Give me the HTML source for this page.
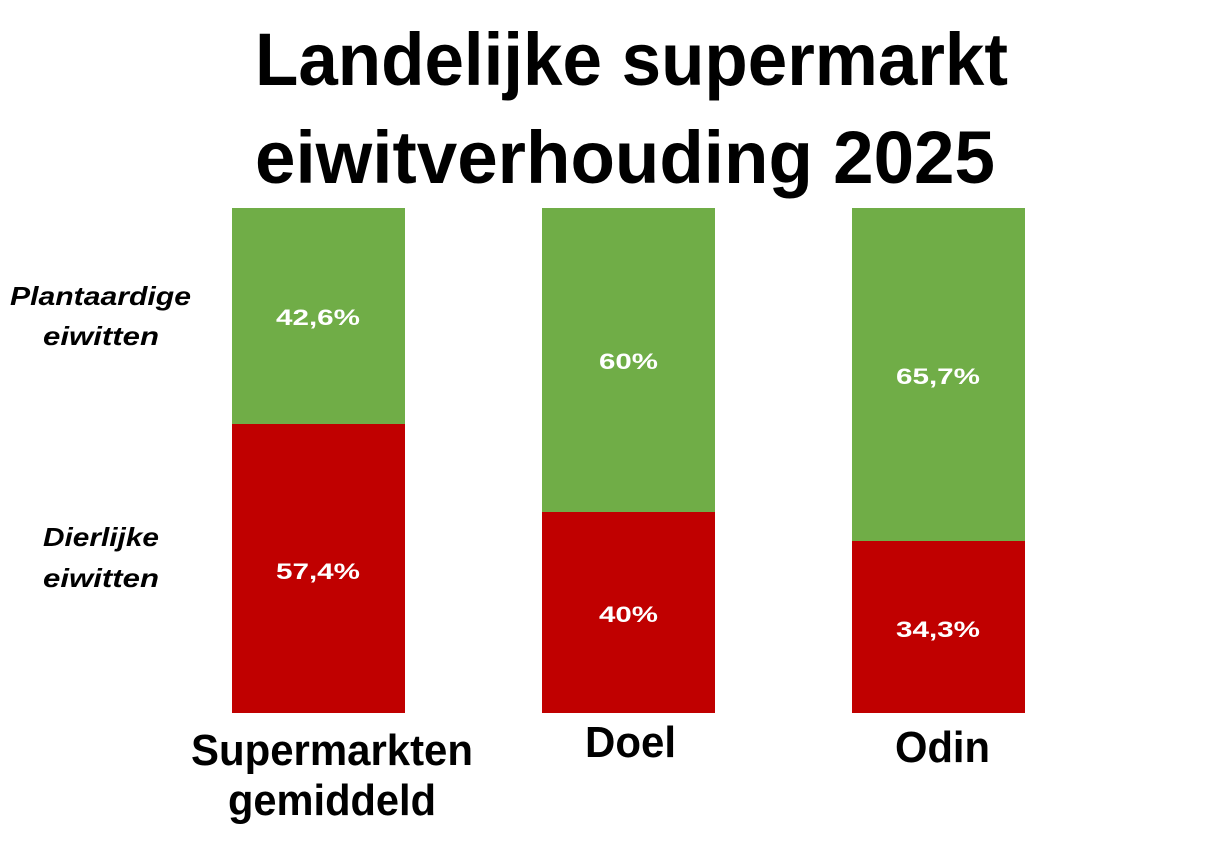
<!DOCTYPE html>
<html><head><meta charset="utf-8"><style>html,body{margin:0;padding:0;background:#fff;}svg{display:block}</style></head>
<body>
<svg width="1209" height="842" viewBox="0 0 1209 842" xmlns="http://www.w3.org/2000/svg">
<rect width="1209" height="842" fill="#fff"/>
<g font-family="Liberation Sans, Arial, sans-serif" font-weight="bold" fill="#000">
<text x="255" y="85" font-size="74" textLength="753" lengthAdjust="spacingAndGlyphs">Landelijke supermarkt</text>
<text x="255" y="183" font-size="74" textLength="740" lengthAdjust="spacingAndGlyphs">eiwitverhouding 2025</text>
</g>
<rect x="232" y="208" width="173" height="216" fill="#70ad47"/>
<rect x="232" y="424" width="173" height="289" fill="#c00000"/>
<rect x="542" y="208" width="173" height="304" fill="#70ad47"/>
<rect x="542" y="512" width="173" height="201" fill="#c00000"/>
<rect x="852" y="208" width="173" height="333" fill="#70ad47"/>
<rect x="852" y="541" width="173" height="172" fill="#c00000"/>
<g font-family="Liberation Sans, Arial, sans-serif" font-weight="bold" fill="#fff" font-size="22">
<text x="276" y="325" textLength="84" lengthAdjust="spacingAndGlyphs">42,6%</text>
<text x="276" y="579" textLength="84" lengthAdjust="spacingAndGlyphs">57,4%</text>
<text x="599" y="369" textLength="59" lengthAdjust="spacingAndGlyphs">60%</text>
<text x="599" y="622" textLength="59" lengthAdjust="spacingAndGlyphs">40%</text>
<text x="896" y="384" textLength="84" lengthAdjust="spacingAndGlyphs">65,7%</text>
<text x="896" y="637" textLength="84" lengthAdjust="spacingAndGlyphs">34,3%</text>
</g>
<g font-family="Liberation Sans, Arial, sans-serif" font-weight="bold" font-style="italic" fill="#000" font-size="26">
<text x="10" y="305" textLength="181" lengthAdjust="spacingAndGlyphs">Plantaardige</text>
<text x="43" y="345" textLength="116" lengthAdjust="spacingAndGlyphs">eiwitten</text>
<text x="43" y="546" textLength="116" lengthAdjust="spacingAndGlyphs">Dierlijke</text>
<text x="43" y="587" textLength="116" lengthAdjust="spacingAndGlyphs">eiwitten</text>
</g>
<g font-family="Liberation Sans, Arial, sans-serif" font-weight="bold" fill="#000" font-size="44">
<text x="191" y="765" textLength="282" lengthAdjust="spacingAndGlyphs">Supermarkten</text>
<text x="228" y="815" textLength="208" lengthAdjust="spacingAndGlyphs">gemiddeld</text>
<text x="585" y="757" textLength="91" lengthAdjust="spacingAndGlyphs">Doel</text>
<text x="895" y="762" textLength="95" lengthAdjust="spacingAndGlyphs">Odin</text>
</g>
</svg>
</body></html>
